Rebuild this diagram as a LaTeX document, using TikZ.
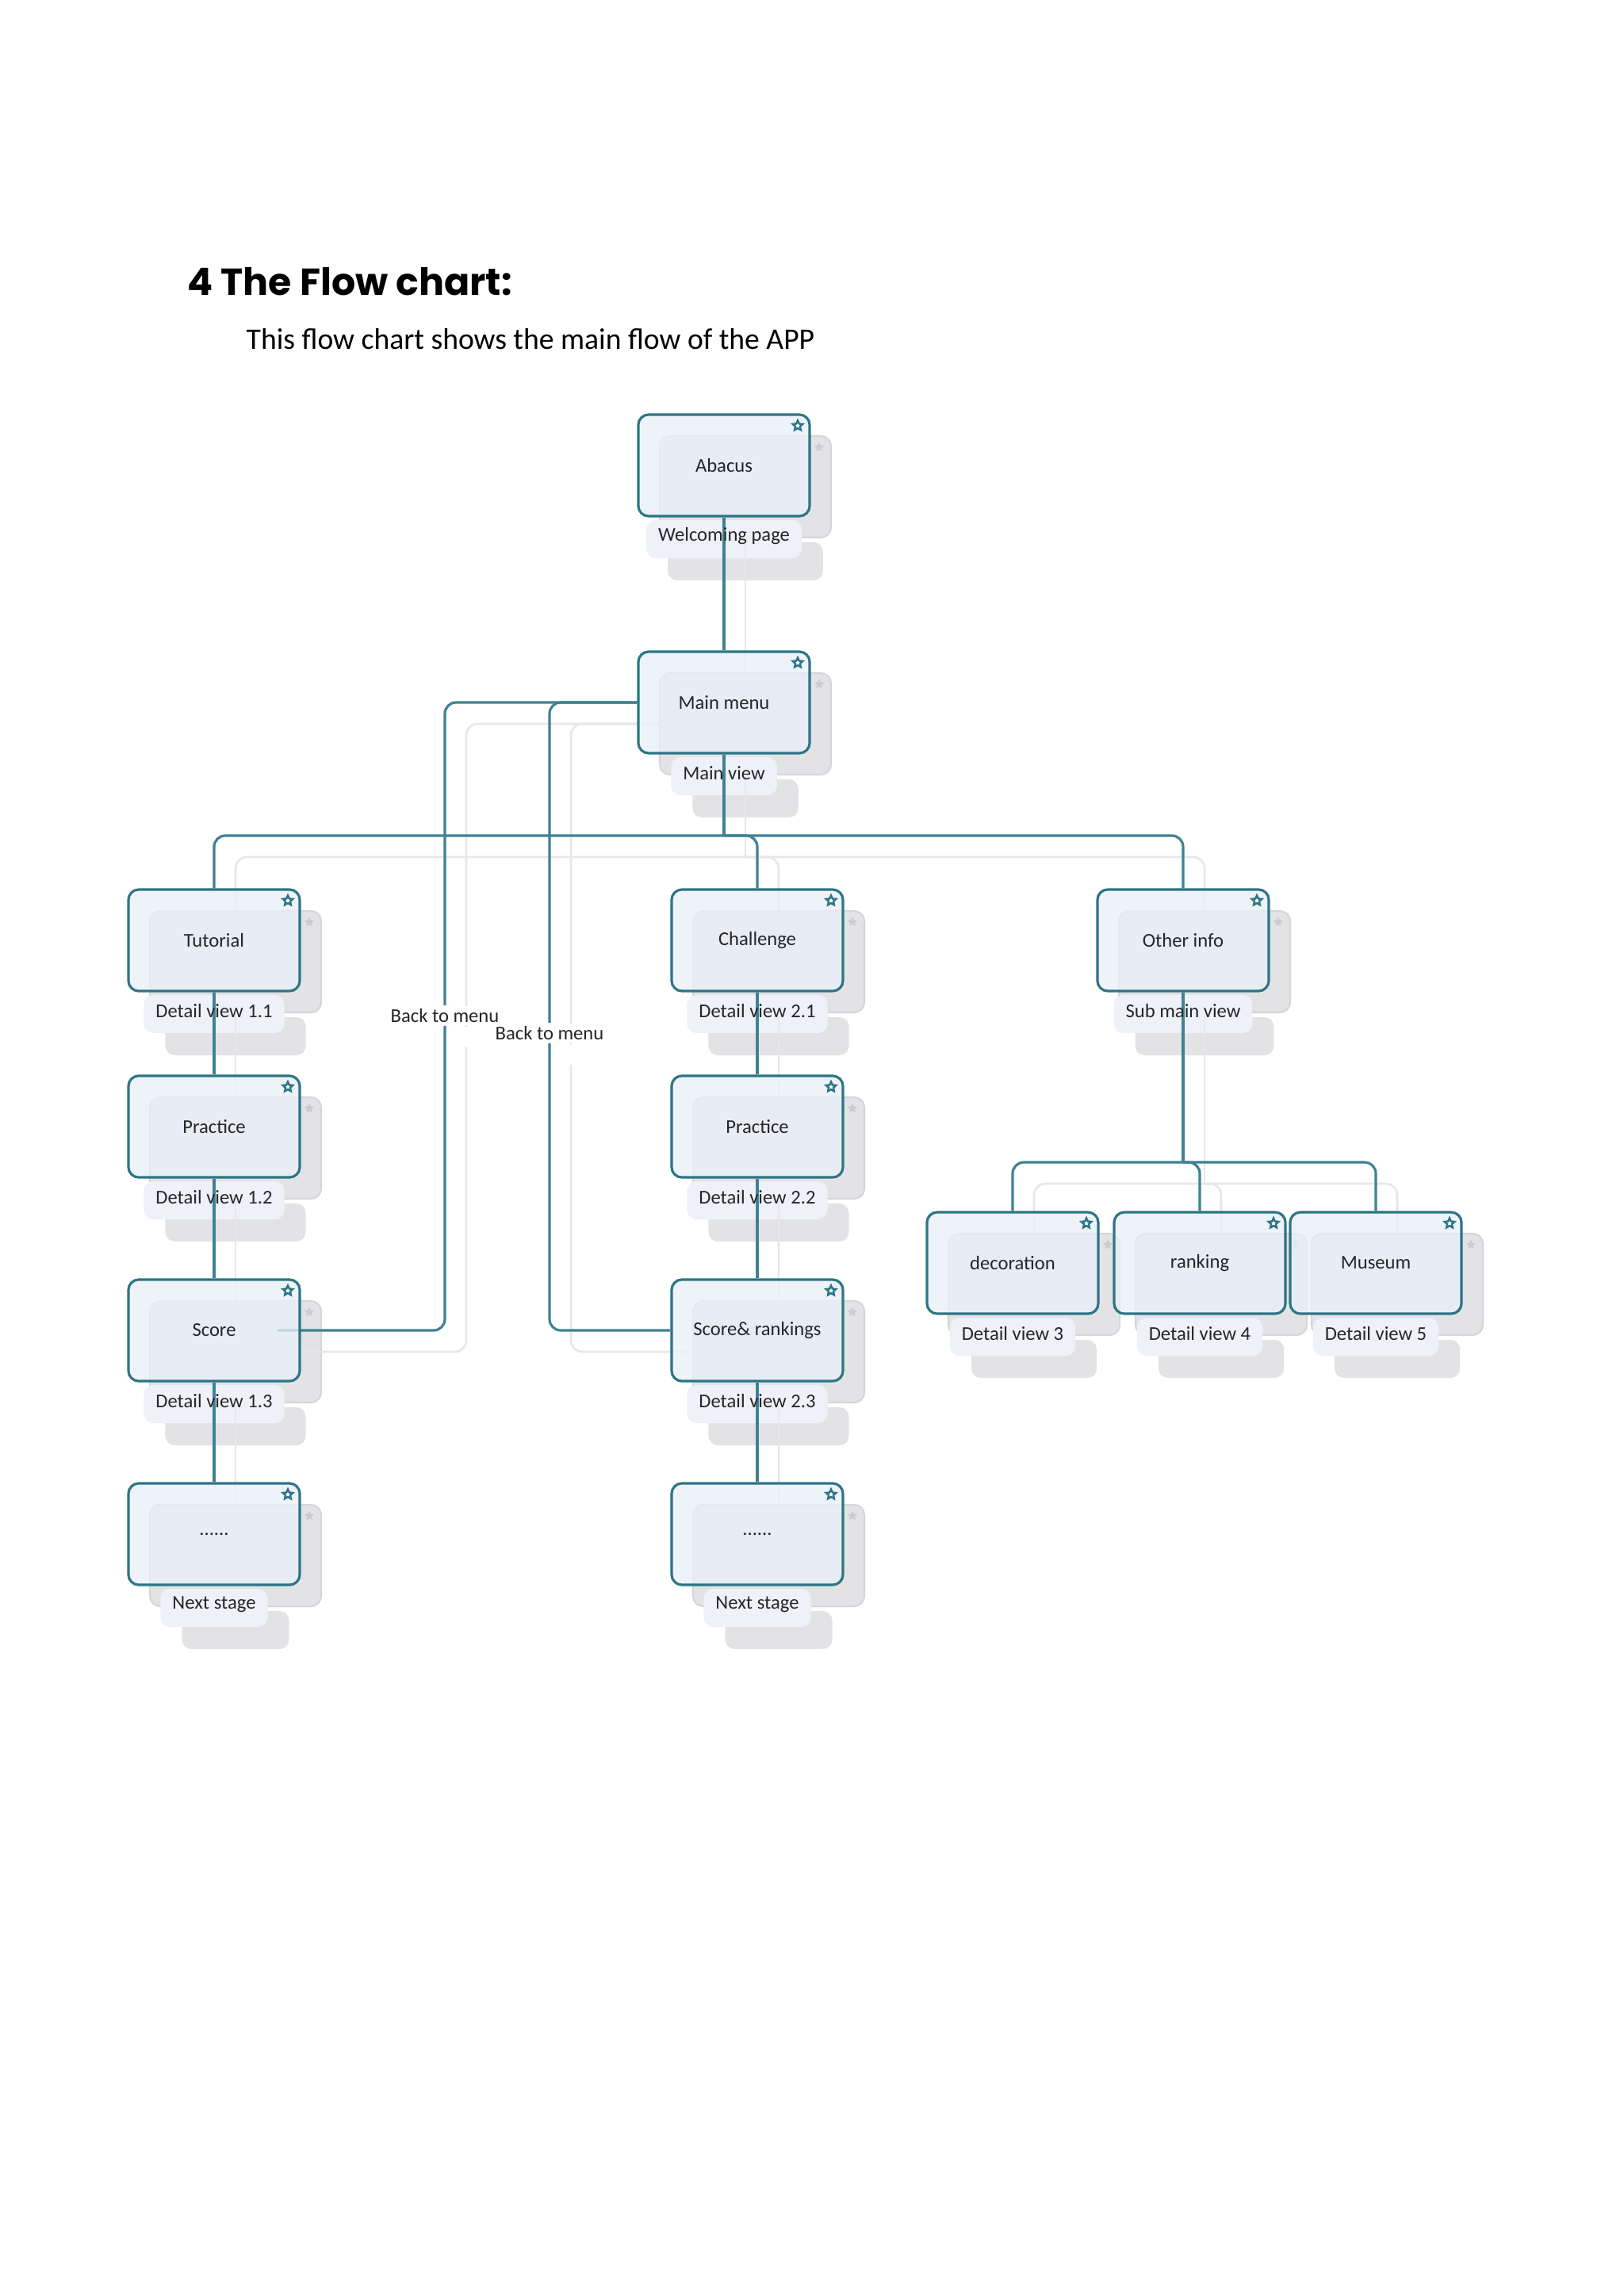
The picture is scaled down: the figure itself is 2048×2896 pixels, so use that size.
\documentclass[tikz,border=0pt]{standalone}
\usepackage{fontspec}
\setmainfont{Carlito}
\newfontfamily\titlefont{Poppins}
\usetikzlibrary{shapes.geometric}

\definecolor{cardline}{RGB}{46,117,133}
\definecolor{linkc}{RGB}{62,130,147}
\definecolor{cardfill}{RGB}{234,239,248}
\definecolor{ghostfill}{RGB}{227,227,230}
\definecolor{ghostline}{RGB}{214,214,218}
\definecolor{ghostlinkc}{RGB}{231,231,235}
\definecolor{ghoststar}{RGB}{204,204,209}
\definecolor{tagfill}{RGB}{238,241,247}

\pgfdeclarelayer{paper}
\pgfdeclarelayer{ghosts}
\pgfdeclarelayer{tags}
\pgfdeclarelayer{links}
\pgfsetlayers{paper,ghosts,tags,links,main}

\newcommand{\cardfont}{\fontsize{7}{8.5}\selectfont}

\tikzset{
  cardbox/.style={draw=cardline, line width=0.9pt, fill=cardfill, fill opacity=0.78, text opacity=1,
    rounded corners=3.7pt, minimum width=2.16cm, minimum height=1.28cm, inner sep=0pt,
    font=\cardfont, text=black!85},
  ghostbox/.style={draw=ghostline, line width=0.6pt, fill=ghostfill, rounded corners=3.7pt,
    minimum width=2.16cm, minimum height=1.28cm, inner sep=0pt},
  tagbox/.style={fill=tagfill, rounded corners=3.4pt, minimum height=0.48cm,
    inner xsep=0.15cm, inner ysep=0pt, font=\cardfont},
  ghosttag/.style={tagbox, fill=ghostfill},
  tagtext/.style={inner sep=0pt, font=\cardfont, text=black!85},
  cardstar/.style={star, star points=5, star point ratio=2.1, minimum size=0.13cm,
    inner sep=0pt, draw=cardline, fill=white, line width=0.7pt},
  ghostsmallstar/.style={star, star points=5, star point ratio=2.1, minimum size=0.13cm,
    inner sep=0pt, fill=ghoststar},
  link/.style={draw=linkc, line width=0.9pt, rounded corners=4pt},
  ghostlink/.style={draw=ghostlinkc, line width=0.8pt, rounded corners=4pt,
    transform canvas={xshift=0.27cm, yshift=-0.27cm}},
  backtag/.style={fill=white, inner sep=1pt, font=\cardfont, text=black!85},
  pics/flowcard/.style 2 args={code={
    \begin{pgfonlayer}{ghosts}
      \node[ghostbox] (-ghost) at (27,27) {};
      \node[ghosttag] at (27,121) {\phantom{#2}};
      \node[ghostsmallstar] at (120,-23) {};
    \end{pgfonlayer}
    \begin{pgfonlayer}{tags}
      \node[tagbox] at (0,93) {\phantom{#2}};
    \end{pgfonlayer}
    \node[cardbox] (-box) at (0,0) {#1};
    \node[cardstar] at (93,-50) {};
    \node[tagtext] (-tag) at (0,89) {#2};
  }}
}

\begin{document}
\begin{tikzpicture}[x=0.01cm, y=-0.01cm]
    \useasboundingbox (0,0) rectangle (2048,2896);
    \begin{pgfonlayer}{paper}
      \fill[white] (0,0) rectangle (2048,2896);
    \end{pgfonlayer}

    % Heading
    \node[anchor=west, inner sep=0pt, font=\titlefont\bfseries\fontsize{13.5}{16}\selectfont] (title) at (236,355) {4 The Flow chart:};
    \node[anchor=west, inner sep=0pt, font=\fontsize{10.7}{13}\selectfont] (subtitle) at (310,428) {This flow chart shows the main flow of the APP};

    % Top of the chart
    \pic (abacus) at (913,587) {flowcard={Abacus}{Welcoming page}};
    \pic (menu) at (913,886) {flowcard={Main menu}{Main view}};

    % Tutorial branch
    \pic (tut) at (270,1186) {flowcard={Tutorial}{Detail view 1.1}};
    \pic (prac1) at (270,1421) {flowcard={Practice}{Detail view 1.2}};
    \pic (score1) at (270,1678) {flowcard={Score}{Detail view 1.3}};
    \pic (next1) at (270,1935) {flowcard={......}{Next stage}};

    % Challenge branch
    \pic (chal) at (955,1186) {flowcard={Challenge}{Detail view 2.1}};
    \pic (prac2) at (955,1421) {flowcard={Practice}{Detail view 2.2}};
    \pic (score2) at (955,1678) {flowcard={Score\& rankings}{Detail view 2.3}};
    \pic (next2) at (955,1935) {flowcard={......}{Next stage}};

    % Other info branch
    \pic (info) at (1492,1186) {flowcard={Other info}{Sub main view}};
    \pic (deco) at (1277,1593) {flowcard={decoration}{Detail view 3}};
    \pic (rank) at (1513,1593) {flowcard={ranking}{Detail view 4}};
    \pic (muse) at (1735,1593) {flowcard={Museum}{Detail view 5}};

    % Return labels
    \node[backtag] (backL) at (561,1281) {Back to menu};
    \node[backtag] (backR) at (693,1303) {Back to menu};

    % Junctions
    \coordinate (mainbus) at (913,1054);
    \coordinate (subbus) at (1492,1466);

    % Connectors, shadow first
    \begin{pgfonlayer}{links}
    \foreach \look in {ghostlink,link}{
      \draw[\look] (abacus-box.south) -- (menu-box.north);
      \draw[\look] (menu-box.south) -- (mainbus);
      \draw[\look] (mainbus) -| (tut-box.north);
      \draw[\look] (mainbus) -| (chal-box.north);
      \draw[\look] (mainbus) -| (info-box.north);
      \draw[\look] (tut-box.south) -- (prac1-box.north);
      \draw[\look] (prac1-box.south) -- (score1-box.north);
      \draw[\look] (score1-box.south) -- (next1-box.north);
      \draw[\look] (chal-box.south) -- (prac2-box.north);
      \draw[\look] (prac2-box.south) -- (score2-box.north);
      \draw[\look] (score2-box.south) -- (next2-box.north);
      \draw[\look] (info-box.south) -- (subbus);
      \draw[\look] (subbus) -| (deco-box.north);
      \draw[\look] (subbus) -| (rank-box.north);
      \draw[\look] (subbus) -| (muse-box.north);
      \draw[\look] (menu-box.west) -| (backL) |- ([xshift=-0.3cm]score1-box.east);
      \draw[\look] (menu-box.west) -| (backR) |- (score2-box.west);
    }
    \end{pgfonlayer}
\end{tikzpicture}
\end{document}
